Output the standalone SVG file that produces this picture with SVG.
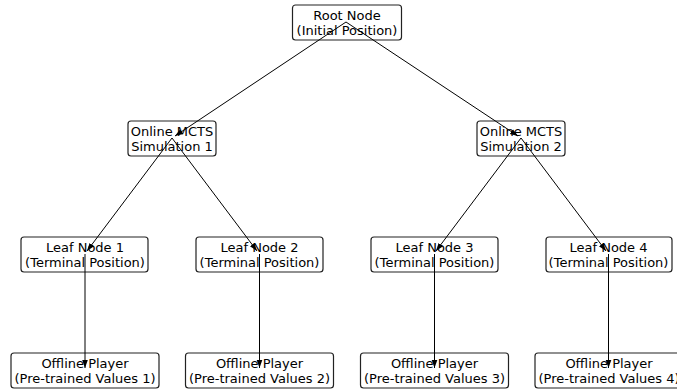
<svg xmlns="http://www.w3.org/2000/svg" width="677" height="392" viewBox="0 0 677 392">
<style>
.box{fill:#fff;stroke:#222;stroke-width:1.2}
.t{font-family:"DejaVu Sans",sans-serif;font-size:13px;fill:#000;text-anchor:middle}
.e{stroke:#000;stroke-width:1;fill:none;marker-end:url(#ah)}
</style>
<defs>
<marker id="ah" viewBox="0 0 10 10" refX="10" refY="5" markerWidth="8" markerHeight="8" markerUnits="userSpaceOnUse" orient="auto">
<path d="M0,1.5 L10,5 L0,8.5 z" fill="#000"/>
</marker>
</defs>
<rect width="677" height="392" fill="#fff"/>
<g id="root"><rect class="box" x="292.5" y="5" width="109" height="35" rx="3"/><text class="t" x="347" y="19.5">Root Node</text><text class="t" x="347" y="34.5">(Initial Position)</text></g>
<g id="mcts1"><rect class="box" x="128" y="121" width="88" height="35" rx="3"/><text class="t" x="172" y="135.5">Online MCTS</text><text class="t" x="172" y="150.5">Simulation 1</text></g>
<g id="mcts2"><rect class="box" x="477" y="121" width="88" height="35" rx="3"/><text class="t" x="521" y="135.5">Online MCTS</text><text class="t" x="521" y="150.5">Simulation 2</text></g>
<g id="leaf1"><rect class="box" x="21" y="237" width="127" height="35" rx="3"/><text class="t" x="85" y="251.5">Leaf Node 1</text><text class="t" x="85" y="266.5">(Terminal Position)</text></g>
<g id="leaf2"><rect class="box" x="196" y="237" width="127" height="35" rx="3"/><text class="t" x="259.5" y="251.5">Leaf Node 2</text><text class="t" x="259.5" y="266.5">(Terminal Position)</text></g>
<g id="leaf3"><rect class="box" x="371" y="237" width="127" height="35" rx="3"/><text class="t" x="434.5" y="251.5">Leaf Node 3</text><text class="t" x="434.5" y="266.5">(Terminal Position)</text></g>
<g id="leaf4"><rect class="box" x="546" y="237" width="126" height="35" rx="3"/><text class="t" x="608.5" y="251.5">Leaf Node 4</text><text class="t" x="608.5" y="266.5">(Terminal Position)</text></g>
<g id="off1"><rect class="box" x="11" y="353" width="148" height="35" rx="3"/><text class="t" x="85" y="367.5">Offline Player</text><text class="t" x="85" y="382.5">(Pre-trained Values 1)</text></g>
<g id="off2"><rect class="box" x="185.5" y="353" width="148" height="35" rx="3"/><text class="t" x="259.5" y="367.5">Offline Player</text><text class="t" x="259.5" y="382.5">(Pre-trained Values 2)</text></g>
<g id="off3"><rect class="box" x="360.5" y="353" width="148" height="35" rx="3"/><text class="t" x="434.5" y="367.5">Offline Player</text><text class="t" x="434.5" y="382.5">(Pre-trained Values 3)</text></g>
<g id="off4"><rect class="box" x="535" y="353" width="148" height="35" rx="3"/><text class="t" x="609" y="367.5">Offline Player</text><text class="t" x="609" y="382.5">(Pre-trained Values 4)</text></g>
<g id="edges">
<line class="e" x1="346" y1="22" x2="175" y2="136"/>
<line class="e" x1="346" y1="22" x2="518" y2="136"/>
<line class="e" x1="172" y1="138" x2="87" y2="251"/>
<line class="e" x1="172" y1="138" x2="257" y2="251"/>
<line class="e" x1="521" y1="138" x2="436" y2="251"/>
<line class="e" x1="521" y1="138" x2="606" y2="251"/>
<line class="e" x1="85" y1="254" x2="85" y2="368"/>
<line class="e" x1="259.5" y1="254" x2="259.5" y2="368"/>
<line class="e" x1="434.5" y1="254" x2="434.5" y2="368"/>
<line class="e" x1="608.5" y1="254" x2="608.5" y2="368"/>
</g>
</svg>
